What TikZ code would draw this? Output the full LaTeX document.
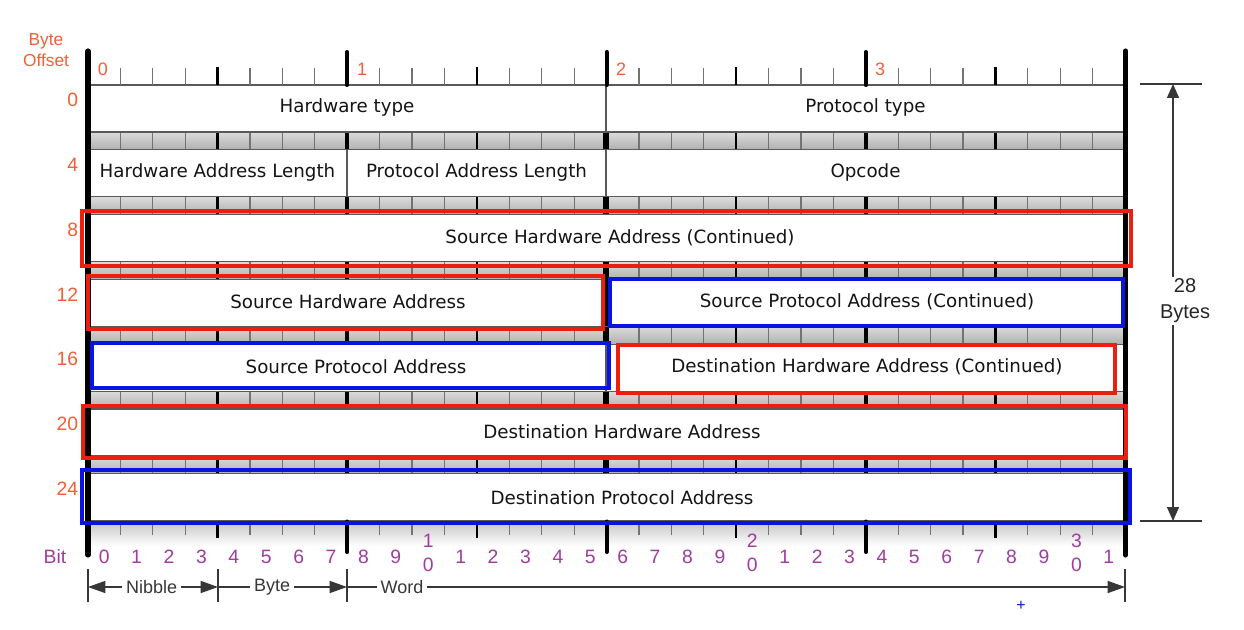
\documentclass[tikz,border=0pt]{standalone}
\usepackage{fontspec}
\setmainfont{DejaVu Sans}
\newfontfamily\hv{Liberation Sans}
\usetikzlibrary{arrows.meta}
\definecolor{offs}{RGB}{240,95,55}
\definecolor{bitc}{RGB}{160,60,160}
\definecolor{hred}{RGB}{235,30,15}
\definecolor{hblue}{RGB}{10,20,225}
\definecolor{dimc}{RGB}{55,55,55}
\begin{document}
\begin{tikzpicture}[x=0.75pt,y=-0.75pt,
  fieldbg/.style={fill=white,draw=black!65,line width=1pt},
  ftxt/.style={font=\fontsize{13.7}{16}\selectfont,text=black!92,inner sep=0pt},
  redhl/.style={draw=hred,line width=3pt},
  bluehl/.style={draw=hblue,line width=3pt},
  offlab/.style={font=\hv\fontsize{14.5}{16}\selectfont,text=offs,inner sep=0pt},
  bitlab/.style={font=\hv\fontsize{14.5}{15}\selectfont,text=bitc,inner sep=0pt},
  dimline/.style={draw=dimc,line width=1.1pt},
  dimtxt/.style={font=\hv\fontsize{13.5}{15}\selectfont,text=dimc,fill=white,inner xsep=3pt,inner ysep=1pt},
  thintick/.style={draw=black!55,line width=0.9pt},
  nibtick/.style={draw=black,line width=1.9pt},
  bytetick/.style={draw=black,line width=3pt},
  endbar/.style={draw=black,line width=3.8pt,line cap=round},
  tip/.style={-{Triangle[length=13pt,width=9pt]}},
  tipboth/.style={{Triangle[length=13pt,width=9pt]}-{Triangle[length=13pt,width=9pt]}},
  vtip/.style={{Triangle[length=10.5pt,width=9pt]}-{Triangle[length=10.5pt,width=9pt]}},
]
\useasboundingbox (0,0) rectangle (1244,630);

% gray bands between rows
\foreach \k in {0,...,5}{
  \pgfmathsetmacro\yt{132+64.8*\k}
  \pgfmathsetmacro\yb{149.8+64.8*\k}
  \shade[top color=gray!28,bottom color=gray!62] (88,\yt) rectangle (1125,\yb);
  \foreach \i in {1,...,31}{
    \draw[thintick] ({88+\i*32.406},\yt) -- ({88+\i*32.406},\yb);
  }
  \foreach \i in {4,12,20,28}{
    \draw[nibtick] ({88+\i*32.406},\yt) -- ({88+\i*32.406},\yb);
  }
  \foreach \i in {8,24}{
    \draw[bytetick] ({88+\i*32.406},\yt) -- ({88+\i*32.406},\yb);
  }
  \draw[draw=black,line width=3.8pt] (606,\yt) -- (606,\yb);
}

% field boxes
\draw[fieldbg] (88,85) rectangle (606,132);
\draw[fieldbg] (606,85) rectangle (1125,132);
\draw[fieldbg] (88,149.8) rectangle (347,196.8);
\draw[fieldbg] (347,149.8) rectangle (606,196.8);
\draw[fieldbg] (606,149.8) rectangle (1125,196.8);
\draw[fieldbg] (88,214.6) rectangle (1125,261.6);
\draw[fieldbg] (88,279.4) rectangle (606,326.4);
\draw[fieldbg] (606,279.4) rectangle (1125,326.4);
\draw[fieldbg] (88,344.2) rectangle (606,391.2);
\draw[fieldbg] (606,344.2) rectangle (1125,391.2);
\draw[fieldbg] (88,409) rectangle (1125,456);
\draw[fieldbg] (88,473.8) rectangle (1125,520.8);
\draw[draw=black,line width=3pt] (606,279.4) -- (606,326.4);

% bottom ruler
\shade[top color=gray!45,bottom color=white] (90,521.5) rectangle (1123,546);
\foreach \i in {1,...,31}{
  \draw[thintick] ({88+\i*32.406},521.5) -- ({88+\i*32.406},535);
}
\foreach \i in {4,12,20,28}{
  \draw[nibtick] ({88+\i*32.406},521.5) -- ({88+\i*32.406},538);
}
\foreach \i in {8,16,24}{
  \draw[bytetick,line cap=round] ({88+\i*32.406},521.5) -- ({88+\i*32.406},552);
}

% top ruler
\foreach \i in {1,...,31}{
  \draw[thintick] ({88+\i*32.406},68) -- ({88+\i*32.406},85);
}
\foreach \i in {4,12,20,28}{
  \draw[nibtick] ({88+\i*32.406},67) -- ({88+\i*32.406},85);
}
\foreach \i in {8,16,24}{
  \draw[bytetick,line cap=round] ({88+\i*32.406},52) -- ({88+\i*32.406},85);
}

% thick end bars
\draw[endbar] (88,51) -- (88,555);
\draw[endbar] (1125.5,51) -- (1125.5,555);

% highlight frames
\draw[redhl] (82,211) rectangle (1131,266);
\draw[redhl] (88,276) rectangle (603,329);
\draw[bluehl] (610,279) rectangle (1123,326);
\draw[bluehl] (92,343) rectangle (609,388);
\draw[redhl] (618,345) rectangle (1115,393);
\draw[redhl] (83,406) rectangle (1126,458);
\draw[bluehl] (82,470) rectangle (1130,523);

% field texts
\node[ftxt] (hwtype) at (347,107.5) {Hardware type};
\node[ftxt] (prtype) at (865.5,107.5) {Protocol type};
\node[ftxt] (hwlen) at (217.5,172.5) {Hardware Address Length};
\node[ftxt] (prlen) at (476.5,172.5) {Protocol Address Length};
\node[ftxt] (opcode) at (865.5,172.5) {Opcode};
\node[ftxt] (shac) at (620,238) {Source Hardware Address (Continued)};
\node[ftxt] (sha) at (348,302) {Source Hardware Address};
\node[ftxt] (spac) at (867,302) {Source Protocol Address (Continued)};
\node[ftxt] (spa) at (356,367) {Source Protocol Address};
\node[ftxt] (dhac) at (867,367) {Destination Hardware Address (Continued)};
\node[ftxt] (dha) at (622,432) {Destination Hardware Address};
\node[ftxt] (dpa) at (622,498) {Destination Protocol Address};

% byte offset labels
\node[offlab,align=center,font=\hv\fontsize{13}{15.5}\selectfont] (boff) at (46,50) {Byte\\Offset};
\node[offlab,font=\hv\fontsize{13.5}{15}\selectfont] (by0) at (103,69) {0};
\node[offlab,font=\hv\fontsize{13.5}{15}\selectfont] (by1) at (362,69) {1};
\node[offlab,font=\hv\fontsize{13.5}{15}\selectfont] (by2) at (621,69) {2};
\node[offlab,font=\hv\fontsize{13.5}{15}\selectfont] (by3) at (880,69) {3};
\foreach \n/\k in {0/0,4/1,8/2,12/3,16/4,20/5,24/6}{
  \node[offlab,anchor=east] (ro\n) at (78.5,{100+64.8*\k}) {\n};
}

% bit labels
\node[bitlab] (bitw) at (55,557) {Bit};
\foreach \i in {0,...,31}{
  \pgfmathsetmacro\cx{88+(\i+0.5)*32.406}
  \pgfmathtruncatemacro\u{mod(\i,10)}
  \pgfmathtruncatemacro\t{int(\i/10)}
  \ifnum\u=0
    \ifnum\i>0
      \node[bitlab] (bt\i) at (\cx,541) {\t};
      \node[bitlab] (bu\i) at (\cx,565) {0};
    \else
      \node[bitlab] (b\i) at (\cx,557) {0};
    \fi
  \else
    \node[bitlab] (b\i) at (\cx,557) {\u};
  \fi
}

% bottom dimension arrows
\coordinate (d0) at (88,587);
\coordinate (d1) at (218,587);
\coordinate (d2) at (347,587);
\coordinate (d3) at (1125,587);
\foreach \x in {88,218,347,1125}{
  \draw[dimline] (\x,569) -- (\x,602);
}
\draw[dimline,tipboth] (d0) -- (d1) node[dimtxt,pos=0.49] (nib) {Nibble};
\draw[dimline,tip] (d1) -- (d2) node[dimtxt,pos=0.42] (byt) {Byte};
\draw[dimline,tip] (d2) -- (d3) node[dimtxt,pos=0.0707] (wrd) {Word};

% right side 28 bytes
\coordinate (rtop) at (1173,84);
\coordinate (rbot) at (1173,521);
\draw[dimline] (1140,84) -- (1202,84);
\draw[dimline] (1140,521) -- (1202,521);
\draw[dimline,vtip] (rtop) -- (rbot);
\node[font=\hv\fontsize{15}{19.5}\selectfont,text=black!85,fill=white,align=center,inner sep=1.5pt] (tot) at (1185,301) {28\\Bytes};

% small blue mark
\node[font=\hv\fontsize{12}{12}\selectfont,text=hblue,inner sep=0pt] (plus) at (1021,606) {+};
\end{tikzpicture}
\end{document}
